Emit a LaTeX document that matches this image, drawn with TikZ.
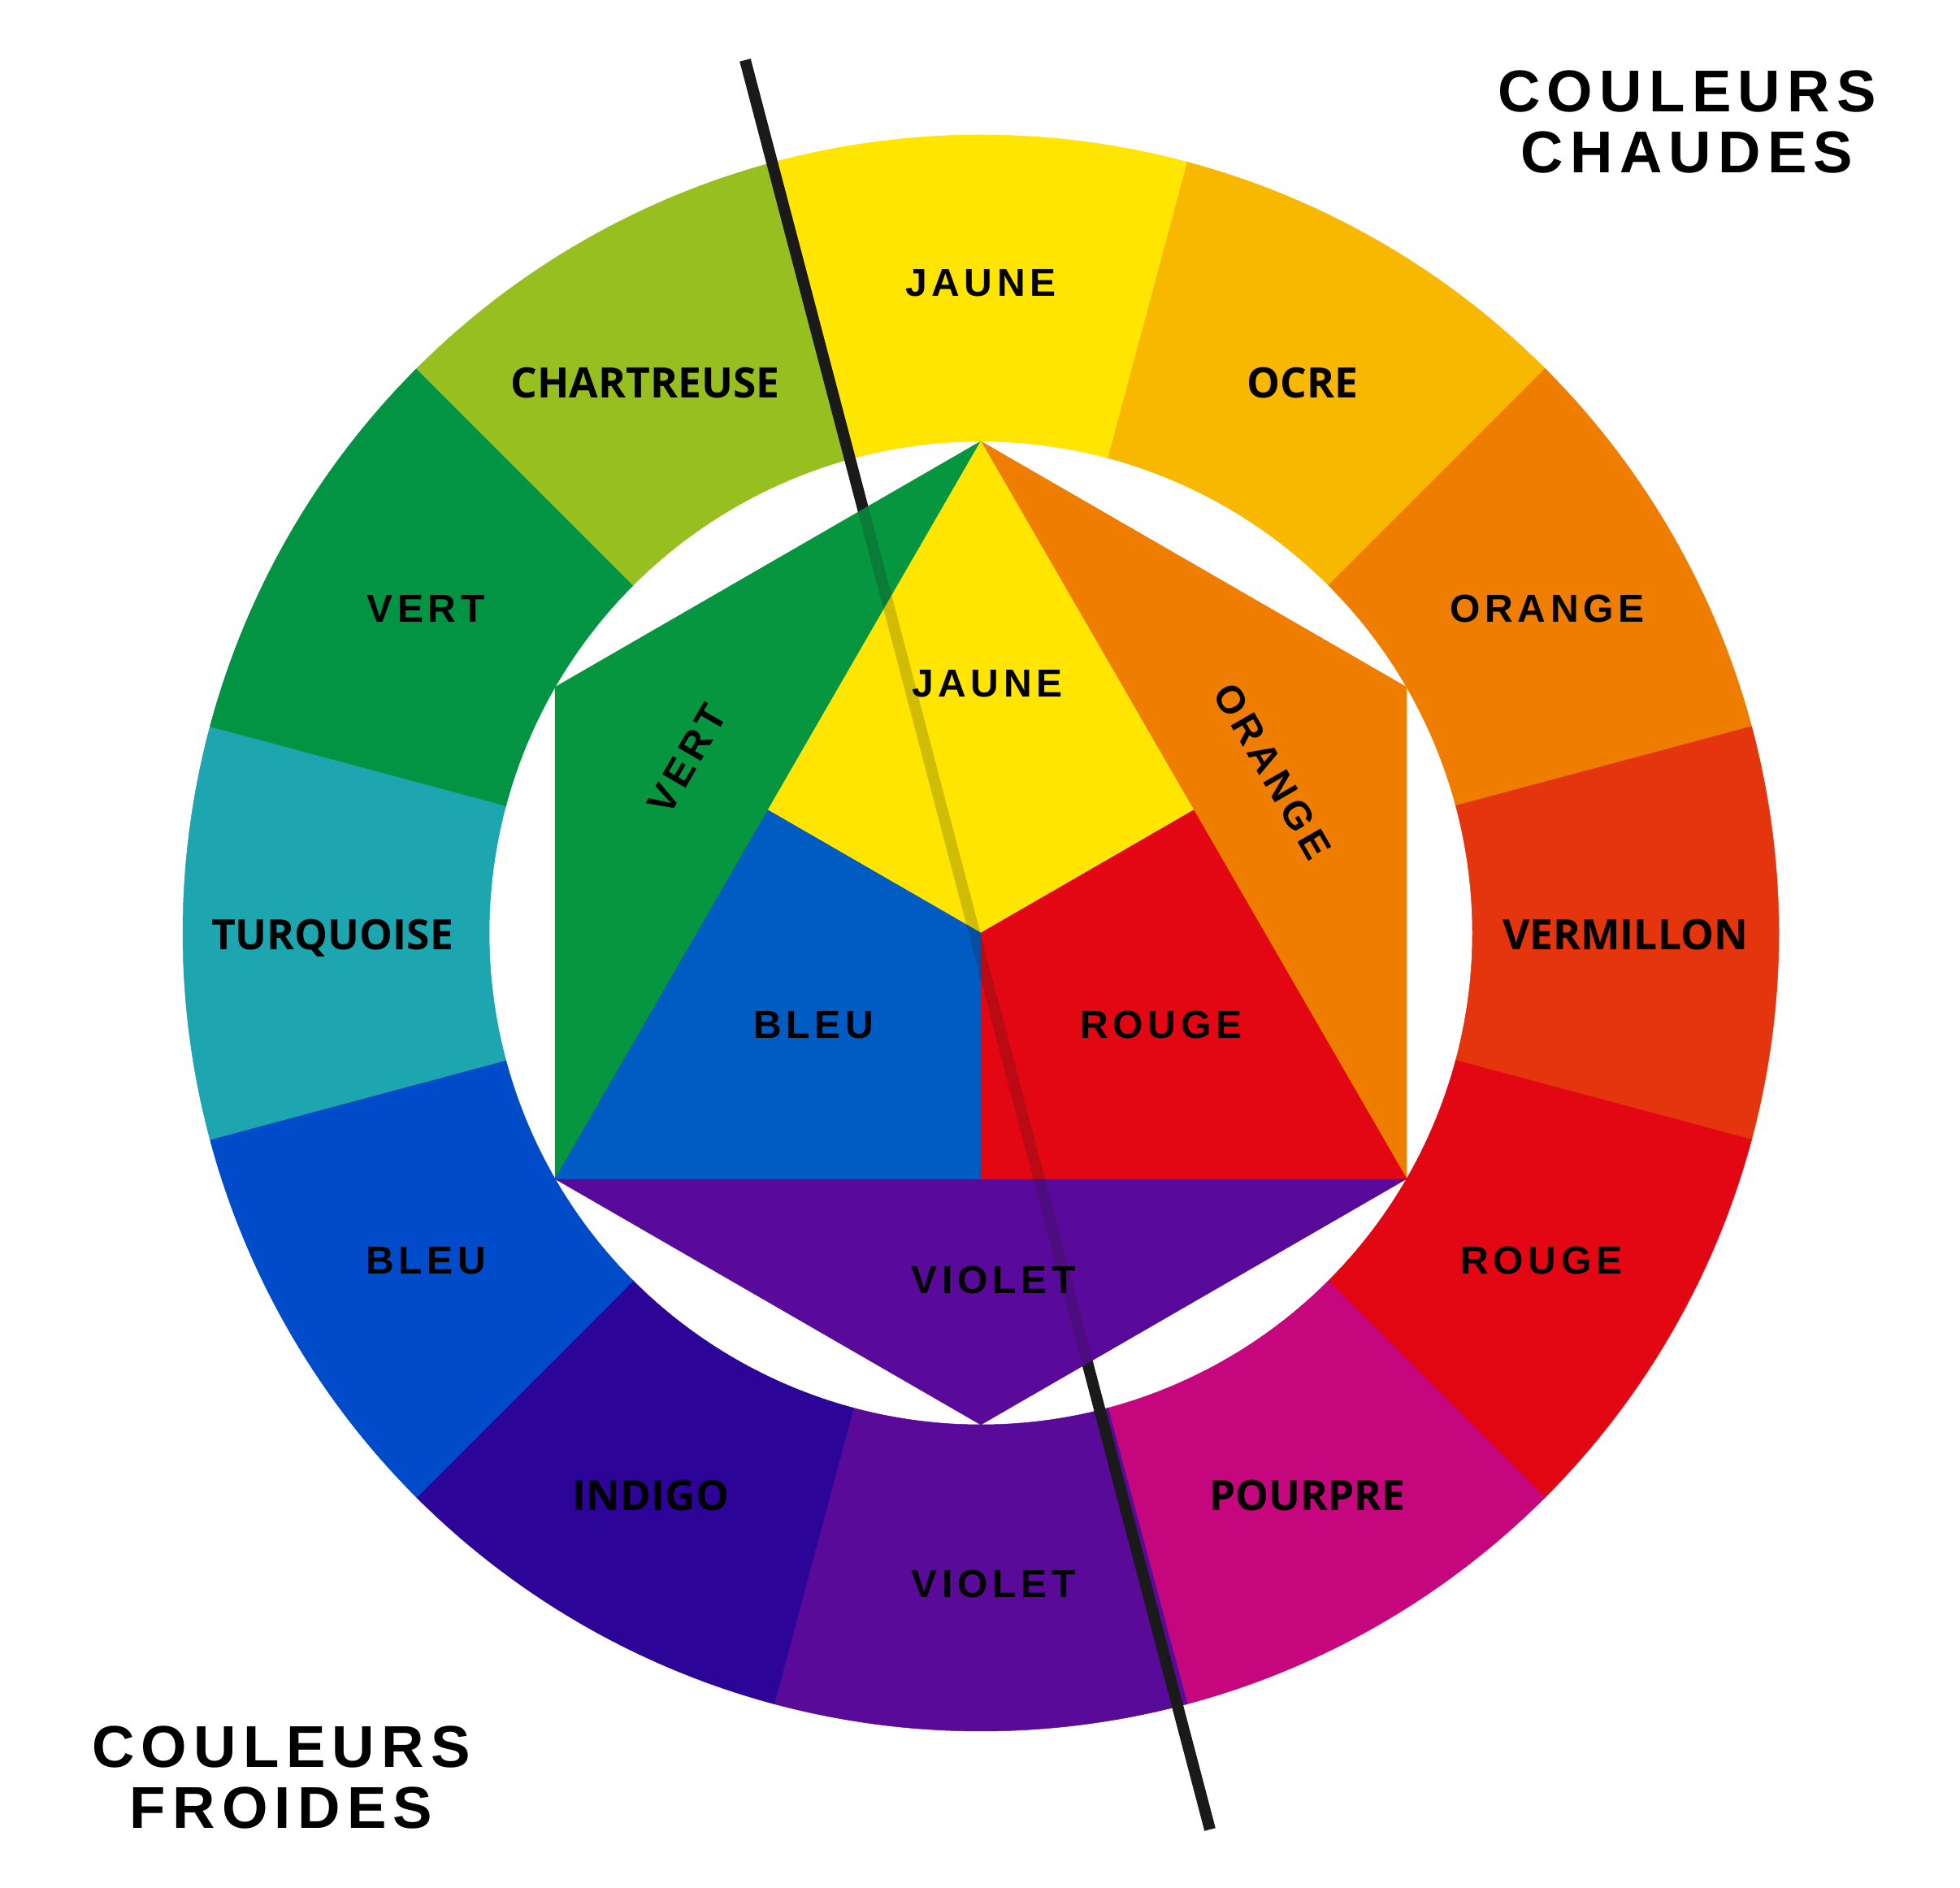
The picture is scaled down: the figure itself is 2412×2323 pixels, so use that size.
\documentclass[tikz,border=0pt]{standalone}
\usepackage{fontspec}
\setmainfont{Liberation Sans}
\newfontfamily\coulfont[LetterSpace=11.4]{Liberation Sans}
\newfontfamily\trackfont[LetterSpace=12]{Liberation Sans}
\newfontfamily\osfont{Open Sans}
\usetikzlibrary{calc}
\definecolor{cJaune}{HTML}{FFE500}
\definecolor{cOcre}{HTML}{F9B800}
\definecolor{cOrange}{HTML}{EE7D00}
\definecolor{cVermillon}{HTML}{E5350F}
\definecolor{cRouge}{HTML}{E30613}
\definecolor{cPourpre}{HTML}{C5067D}
\definecolor{cViolet}{HTML}{5A0A99}
\definecolor{cIndigo}{HTML}{2C0598}
\definecolor{cBleu}{HTML}{004BCA}
\definecolor{cTurquoise}{HTML}{1DA5B0}
\definecolor{cVert}{HTML}{039443}
\definecolor{cChartreuse}{HTML}{97BF1F}
\definecolor{iJaune}{HTML}{FFE500}
\definecolor{iVert}{HTML}{05963F}
\definecolor{iOrange}{HTML}{EF7D00}
\definecolor{iBleu}{HTML}{005BC3}
\definecolor{iRouge}{HTML}{E30613}
\definecolor{iViolet}{HTML}{5A0A9A}
\definecolor{lineCol}{HTML}{1A1A1A}
\begin{document}
\begin{tikzpicture}[x=1pt,y=1pt,
  lab/.style={font=\trackfont\bfseries\fontsize{48}{54}\selectfont, text=black, inner sep=0pt},
  tert/.style={font=\osfont\bfseries\fontsize{51.5}{56}\selectfont, text=black, inner sep=0pt},
  big/.style={font=\coulfont\bfseries\fontsize{72.6}{86}\selectfont, text=black, inner sep=0pt},
  divider/.style={draw=lineCol, line width=14pt},
]
\useasboundingbox (0,0) rectangle (2412,2323);
\fill[white] (0,0) rectangle (2412,2323);
\begin{scope}[shift={(1207,1175)}]
  % outer ring
  \foreach \a/\c in {90/cJaune,60/cOcre,30/cOrange,0/cVermillon,-30/cRouge,-60/cPourpre,-90/cViolet,-120/cIndigo,-150/cBleu,-180/cTurquoise,-210/cVert,-240/cChartreuse}{
    \pgfmathsetmacro{\sa}{\a-15}
    \pgfmathsetmacro{\ea}{\a+15}
    \fill[\c, draw=\c, line width=0.5pt] (\sa:982) arc[start angle=\sa, end angle=\ea, radius=982]
      -- (\ea:605) arc[start angle=\ea, end angle=\sa, radius=605] -- cycle;
  }
  \coordinate (hT) at (90:605);
  \coordinate (hUR) at (30:605);
  \coordinate (hLR) at (-30:605);
  \coordinate (hB) at (-90:605);
  \coordinate (hLL) at (-150:605);
  \coordinate (hUL) at (150:605);
  \coordinate (c) at (0,0);
\end{scope}
\coordinate (mL) at ($(hT)!.5!(hLL)$);
\coordinate (mR) at ($(hT)!.5!(hLR)$);
\coordinate (mB) at ($(hLL)!.5!(hLR)$);
% divider line
\coordinate (lt) at (917,2249);
\coordinate (lb) at (1489,72);
\draw[divider] (lt) -- (lb);
% inner hexagon pieces
\fill[iVert, draw=iVert, line width=0.5pt] (hT) -- (hUL) -- (hLL) -- cycle;
\fill[iOrange, draw=iOrange, line width=0.5pt] (hT) -- (hUR) -- (hLR) -- cycle;
\fill[iViolet, draw=iViolet, line width=0.5pt] (hLL) -- (hLR) -- (hB) -- cycle;
\fill[iJaune, draw=iJaune, line width=0.5pt] (hT) -- (mR) -- (c) -- (mL) -- cycle;
\fill[iBleu, draw=iBleu, line width=0.5pt] (mL) -- (c) -- (mB) -- (hLL) -- cycle;
\fill[iRouge, draw=iRouge, line width=0.5pt] (c) -- (mR) -- (hLR) -- (mB) -- cycle;
\begin{scope}
  \clip (hT) -- (hUR) -- (hLR) -- (hB) -- (hLL) -- (hUL) -- cycle;
  \draw[divider, opacity=0.2] (lt) -- (lb);
\end{scope}
% labels
\begin{scope}[shift={(1207,1175)}]
  \node[lab,  anchor=base] (oJaune)      at (0,783)     {JAUNE};
  \node[tert, anchor=base] (oOcre)       at (396,658)   {OCRE};
  \node[lab,  anchor=base] (oOrange)     at (697,382)   {ORANGE};
  \node[tert, anchor=base] (oVermillon)  at (793,-21)   {VERMILLON};
  \node[lab,  anchor=base] (oRouge)      at (690,-420)  {ROUGE};
  \node[tert, anchor=base] (oPourpre)    at (402,-711)  {POURPRE};
  \node[lab,  anchor=base] (oViolet)     at (16,-818)   {VIOLET};
  \node[tert, anchor=base] (oIndigo)     at (-406,-711) {INDIGO};
  \node[lab,  anchor=base] (oBleu)       at (-683,-420) {BLEU};
  \node[tert, anchor=base] (oTurquoise)  at (-798,-21)  {TURQUOISE};
  \node[lab,  anchor=base] (oVert)       at (-683,382)  {VERT};
  \node[tert, anchor=base] (oChartreuse) at (-413,658)  {CHARTREUSE};
  \node[lab] (iJauneL)  at (8,307)    {JAUNE};
  \node[lab, rotate=60]  (iVertL)   at (-361,214) {VERT};
  \node[lab, rotate=-60] (iOrangeL) at (359,199)  {ORANGE};
  \node[lab] (iBleuL)   at (-206,-113) {BLEU};
  \node[lab] (iRougeL)  at (222,-113)  {ROUGE};
  \node[lab] (iVioletL) at (16,-427)   {VIOLET};
\end{scope}
\node[big, anchor=base] (cc1) at (2076,2185) {COULEURS};
\node[big, anchor=base] (cc2) at (2076,2110) {CHAUDES};
\node[big, anchor=base] (cf1) at (346,148) {COULEURS};
\node[big, anchor=base] (cf2) at (346,73) {FROIDES};
\end{tikzpicture}
\end{document}
